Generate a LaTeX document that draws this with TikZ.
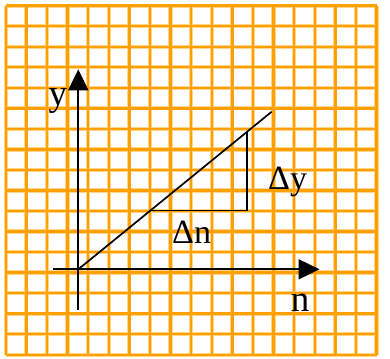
\documentclass[tikz,border=0pt]{standalone}
\usepackage{fontspec}
\setmainfont{Liberation Serif}
\usetikzlibrary{arrows.meta}
\definecolor{gridcore}{RGB}{255,160,0}
\definecolor{gridhalo}{RGB}{255,214,140}
\tikzset{
  gridhalo/.style={draw=gridhalo,line width=4.2pt},
  gridcore/.style={draw=gridcore,line width=2.4pt},
  axis/.style={draw=black,line width=1.9pt,-{Triangle[length=21pt,width=20pt]}},
  thin line/.style={draw=black,line width=1.7pt},
  axislabel/.style={inner sep=0pt,anchor=base,font=\fontsize{37}{42}\selectfont},
  dlabel/.style={inner sep=0pt,anchor=base west,font=\fontsize{34}{38}\selectfont}
}
\begin{document}
\begin{tikzpicture}[x=1pt,y=-1pt]
\useasboundingbox[fill=white] (0,0) rectangle (390,358);
% grid
\foreach \s in {gridhalo,gridcore}{
  \foreach \i in {0,...,18}
    \draw[\s] ({5.7+20.6*\i},5.7) -- ({5.7+20.6*\i},354.7);
  \foreach \j in {0,...,17}
    \draw[\s] (5.7,{5.7+20.53*\j}) -- (376.5,{5.7+20.53*\j});
}
% coordinates
\coordinate (O) at (78.3,269.3);
\coordinate (ybot) at (78.3,310);
\coordinate (ytop) at (78.3,69.3);
\coordinate (xleft) at (53,269.3);
\coordinate (xright) at (319.5,269.3);
\coordinate (lend) at (271.7,111.7);
\coordinate (tA) at (150,210.5);
\coordinate (tB) at (246.7,210.5);
\coordinate (tC) at (246.7,132);
% axes
\draw[axis] (ybot) -- (ytop);
\draw[axis] (xleft) -- (xright);
% line and triangle
\draw[thin line] (O) -- (lend);
\draw[thin line] (tA) -- (tB) -- (tC);
% labels
\node[axislabel] (ylab) at (57.8,106) {y};
\node[axislabel] (nlab) at (300,311.5) {n};
\node[dlabel] (dy) at (268,189) {Δy};
\node[dlabel] (dn) at (172,243) {Δn};
\end{tikzpicture}
\end{document}
